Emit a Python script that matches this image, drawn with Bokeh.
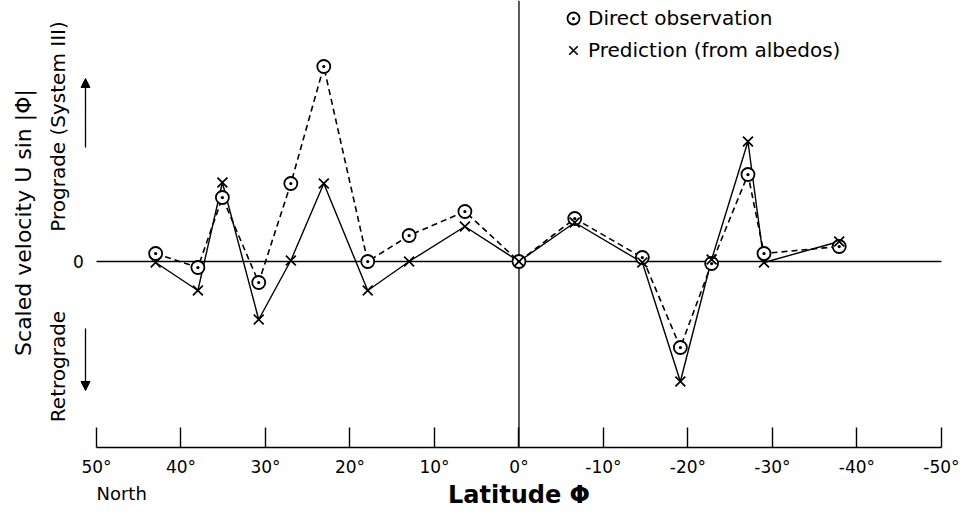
from bokeh.plotting import figure
from bokeh.models import Range1d, Label, Arrow, NormalHead, FixedTicker
from bokeh.embed import file_html
from bokeh.resources import INLINE

# Latitude (degrees, north positive) of each measured belt
latitude = [43.0, 38.0, 35.1, 30.8, 27.0, 23.1, 17.9, 13.0, 6.4, 0.0,
            -6.6, -14.6, -19.1, -22.8, -27.1, -29.0, -37.9]
# Scaled velocity U sin|phi| (arbitrary units), direct observation
observed = [0.8, -0.6, 6.4, -2.1, 7.8, 19.5, 0.0, 2.6, 5.0, 0.0,
            4.3, 0.4, -8.6, -0.2, 8.7, 0.8, 1.5]
# Scaled velocity predicted from albedos
predicted = [-0.1, -2.9, 7.9, -5.8, 0.1, 7.8, -2.9, 0.0, 3.5, 0.0,
             3.9, -0.1, -12.0, 0.2, 12.0, -0.1, 2.0]

tick_values = [50, 40, 30, 20, 10, 0, -10, -20, -30, -40, -50]
tick_labels = ["50°", "40°", "30°", "20°", "10°", "0°",
               "-10°", "-20°", "-30°", "-40°", "-50°"]

FONT = "DejaVu Sans"
Y_TOP, Y_BOTTOM = 26.1, -25.2     # visible value range of the drawing area
AXIS_Y = -18.6                    # level at which the latitude axis is drawn
X_LEFT, X_RIGHT = 61.36, -52.49   # visible latitude range (room for side texts)

p = figure(width=962, height=513,
           x_range=Range1d(X_LEFT, X_RIGHT), y_range=Range1d(Y_BOTTOM, Y_TOP),
           output_backend="svg", toolbar_location=None, y_axis_location=None,
           min_border_left=0, min_border_right=0,
           min_border_top=0, min_border_bottom=0)
p.outline_line_color = None
p.grid.visible = False

# latitude axis, drawn inside the area at a fixed level
xa = p.xaxis[0]
xa.fixed_location = AXIS_Y
xa.bounds = (min(tick_values), max(tick_values))
xa.ticker = FixedTicker(ticks=tick_values)
xa.major_label_overrides = {v: l for v, l in zip(tick_values, tick_labels)}
xa.minor_tick_line_color = None
xa.major_tick_in = 20
xa.major_tick_out = 0
xa.major_tick_line_width = 1.4
xa.axis_line_width = 1.4
xa.axis_line_color = "black"
xa.major_tick_line_color = "black"
xa.major_label_standoff = 9
xa.major_label_text_font = FONT
xa.major_label_text_font_size = "17px"
xa.major_label_text_color = "black"
xa.axis_label = "Latitude Φ"
xa.axis_label_text_font = FONT
xa.axis_label_text_font_size = "24px"
xa.axis_label_text_font_style = "bold"
xa.axis_label_text_color = "black"
xa.axis_label_standoff = 1

# zero lines
p.segment(x0=[tick_values[0]], x1=[tick_values[-1]], y0=[0], y1=[0],
          line_color="black", line_width=1.3)
p.segment(x0=[0], x1=[0], y0=[AXIS_Y], y1=[Y_TOP],
          line_color="black", line_width=1.3)

# series
p.line(latitude, predicted, line_color="black", line_width=1.4)
p.line(latitude, observed, line_color="black", line_width=1.6, line_dash="6 4")
p.scatter(latitude, observed, marker="circle_dot", size=13, fill_color="white",
          line_color="black", line_width=1.8, legend_label="Direct observation")
p.scatter(latitude, predicted, marker="x", size=14, line_color="black",
          line_width=1.7, legend_label="Prediction (from albedos)")

lg = p.legend[0]
lg.location = (558, 448)
lg.margin = 0
lg.padding = 0
lg.spacing = 2
lg.glyph_width = 30
lg.glyph_height = 30
lg.label_height = 30
lg.label_standoff = -3
lg.border_line_color = None
lg.background_fill_alpha = 0
lg.label_text_font = FONT
lg.label_text_font_size = "20px"
lg.label_text_color = "black"

# vertical axis texts
p.add_layout(Label(x=58.64, y=3.9, text="Scaled velocity U sin |Φ|", angle=90, angle_units="deg",
                   text_align="center", text_baseline="middle",
                   text_font=FONT, text_font_size="22px", text_color="black"))
p.add_layout(Label(x=52.13, y=0, text="0", text_align="center", text_baseline="middle",
                   text_font=FONT, text_font_size="17px", text_color="black"))
p.add_layout(Label(x=54.5, y=13.5, text="Prograde (System III)", angle=90, angle_units="deg",
                   text_align="center", text_baseline="middle",
                   text_font=FONT, text_font_size="20px", text_color="black"))
p.add_layout(Label(x=54.5, y=-10.5, text="Retrograde", angle=90, angle_units="deg",
                   text_align="center", text_baseline="middle",
                   text_font=FONT, text_font_size="20px", text_color="black"))
p.add_layout(Arrow(x_start=51.3, y_start=11.4, x_end=51.3, y_end=18.3,
                   line_color="black", line_width=1.3,
                   end=NormalHead(size=9, fill_color="black", line_color="black")))
p.add_layout(Arrow(x_start=51.3, y_start=-6.7, x_end=51.3, y_end=-12.9,
                   line_color="black", line_width=1.3,
                   end=NormalHead(size=9, fill_color="black", line_color="black")))
p.add_layout(Label(x=50, y=-23.2, text="North", text_align="left", text_baseline="middle",
                   text_font=FONT, text_font_size="18px", text_color="black"))

open("out.html", "w").write(file_html(p, INLINE))
